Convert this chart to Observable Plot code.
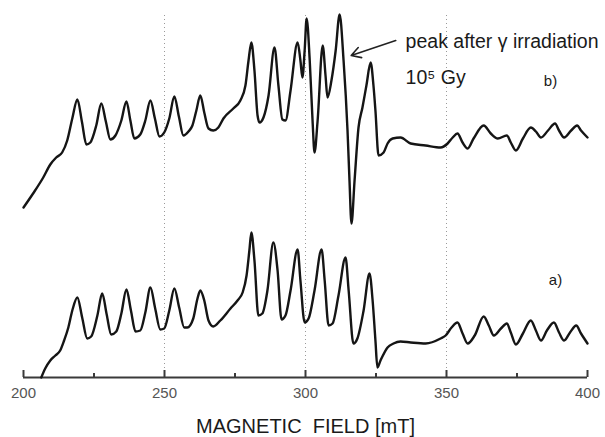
<!DOCTYPE html>
<html>
<head>
<meta charset="utf-8">
<script src="https://cdn.jsdelivr.net/npm/d3@7"></script>
<script src="https://cdn.jsdelivr.net/npm/@observablehq/plot@0.6"></script>
<style>
  html, body { margin: 0; padding: 0; background: #fff; }
  #chart { width: 605px; height: 437px; }
</style>
</head>
<body>
<div id="chart"></div>
<script>
// Spectrum b) — after gamma irradiation (10^5 Gy): magnetic field [mT] and signal (a.u.)
const fieldB = [200.0,203.4,207.0,209.5,211.6,213.7,215.5,217.3,219.1,220.7,222.3,223.7,225.8,227.6,229.2,230.8,232.6,234.7,236.5,237.9,239.3,241.4,243.2,245.0,246.6,248.2,249.9,251.7,253.5,255.1,256.7,258.5,259.9,261.3,262.7,264.1,265.6,267.3,269.1,270.9,274.4,276.9,278.7,279.8,280.8,281.9,283.0,283.7,285.1,286.9,289.0,290.4,291.8,292.9,294.7,297.2,298.2,298.9,299.7,300.4,301.5,302.5,303.2,304.3,306.1,307.1,307.8,309.2,310.7,312.1,313.5,314.9,315.6,316.3,317.4,318.8,320.2,321.6,323.1,324.1,324.8,325.9,327.7,329.1,330.9,333.7,337.3,342.6,347.9,350.4,352.2,353.9,355.7,357.5,359.6,363.2,365.7,368.2,371.4,372.8,374.6,377.1,379.9,381.7,383.5,386.0,388.5,389.9,391.7,394.2,396.3,397.7,400.0];
const signalB = [17.0,18.4,20.0,21.3,22.0,22.5,23.7,25.9,27.8,25.6,23.3,23.5,25.2,27.4,25.6,23.8,24.2,25.7,27.6,25.7,23.9,24.3,25.7,27.7,25.9,24.1,24.5,25.9,28.1,26.1,24.2,24.6,25.2,26.7,28.2,26.5,24.9,24.7,25.0,25.9,26.9,27.7,29.2,31.7,33.5,30.7,26.2,25.5,26.0,28.2,33.0,29.2,25.8,25.7,28.7,33.5,31.7,30.0,32.7,35.9,31.7,25.7,22.5,25.7,33.2,30.2,28.0,29.7,32.7,36.3,31.7,24.7,19.7,15.4,19.7,25.0,27.0,29.2,31.5,29.2,26.7,22.2,22.5,23.4,23.9,24.0,23.4,23.2,23.0,23.4,24.0,24.4,23.5,22.9,23.9,25.2,24.4,23.9,24.2,23.5,22.7,23.9,25.0,24.6,24.0,24.7,25.4,24.7,24.0,24.7,25.2,24.7,24.0];

// Spectrum a) — before irradiation
const fieldA = [206.3,207.7,209.5,211.3,213.0,214.4,215.9,217.3,219.1,220.8,222.6,224.0,226.2,227.9,229.5,231.1,232.9,234.7,236.5,238.1,239.7,241.4,243.2,245.0,246.7,248.5,249.9,251.7,253.5,255.2,257.0,258.1,260.2,261.7,262.7,264.1,265.6,267.3,269.8,273.4,275.9,277.7,279.1,280.1,280.8,281.9,283.3,284.7,286.5,288.6,290.1,291.5,292.9,294.7,297.2,298.2,299.7,301.1,303.2,305.7,306.8,308.2,309.6,311.7,314.2,315.3,317.0,318.4,320.6,322.7,323.8,324.8,325.5,326.6,329.1,331.2,333.7,337.3,342.6,347.9,349.7,351.8,353.9,355.7,357.5,360.0,363.2,365.0,366.8,369.3,371.4,372.8,374.6,377.1,379.9,381.7,383.5,385.6,388.1,389.9,391.7,393.8,396.0,397.7,400.0];
const signalA = [0.0,0.9,1.7,2.2,2.7,3.7,5.0,6.7,8.0,6.0,3.9,4.1,6.2,8.4,6.3,4.3,4.6,6.4,8.8,6.7,4.6,4.7,6.5,9.0,6.9,4.8,4.9,6.7,8.9,7.0,5.0,5.0,5.9,7.9,8.7,7.7,5.7,5.1,5.7,6.9,7.7,8.5,10.2,12.7,14.5,11.7,6.2,6.4,8.7,13.5,10.7,5.8,6.2,8.7,12.8,9.7,5.5,5.9,8.7,12.8,9.7,5.2,5.4,8.2,12.0,8.7,3.4,3.9,6.7,10.4,7.7,3.7,1.0,1.7,3.0,3.4,3.6,3.5,3.4,3.9,4.2,5.0,5.5,4.4,3.4,4.2,6.1,5.2,4.2,4.9,5.4,4.5,3.3,4.4,5.7,4.7,3.7,4.7,5.5,4.5,3.7,4.5,5.2,4.4,3.4];

const majorTicks = [200, 250, 300, 350, 400];
const minorTicks = [225, 275, 325, 375];
const gridLines = [250, 300, 350];
const xTitle = "MAGNETIC\u00a0 FIELD [mT]";

// annotation anchors (data units)
const peakNote = {x: 335.5, y: 33.6, text: "peak after \u03b3 irradiation"};
const doseNote = {x: 335.5, y: 30.0, text: "10\u2075 Gy"};
const labelB = {x: 384.5, y: 29.6, text: "b)"};
const labelA = {x: 386.3, y: 9.7, text: "a)"};
const arrowFrom = {x: 332.0, y: 33.7};
const arrowTo = {x: 316.2, y: 32.2};

const specB = fieldB.map((f, i) => ({field: f, signal: signalB[i]}));
const specA = fieldA.map((f, i) => ({field: f, signal: signalA[i]}));

const font = "'Liberation Sans', Arial, Helvetica, sans-serif";

const chart = Plot.plot({
  width: 605,
  height: 437,
  marginLeft: 23,
  marginRight: 18,
  marginTop: 0,
  marginBottom: 60,
  style: {fontFamily: font, background: "#fff", overflow: "visible"},
  x: {domain: [200, 400]},
  y: {domain: [0, 37.7], axis: null},
  marks: [
    Plot.ruleX(gridLines, {x: d => d, stroke: "#9a9a9a", strokeWidth: 1, strokeDasharray: "1,3", insetTop: 15}),
    Plot.ruleY([0], {stroke: "#3a3a3a", strokeWidth: 2}),
    Plot.ruleX(majorTicks, {x: d => d, stroke: "#3a3a3a", strokeWidth: 2, insetTop: 370}),
    Plot.ruleX(minorTicks, {x: d => d, stroke: "#3a3a3a", strokeWidth: 2, insetTop: 373}),
    Plot.axisX(majorTicks, {tickSize: 0, tickPadding: 10, fontSize: 15, fill: "#555", label: null}),
    Plot.text([xTitle], {text: d => d, frameAnchor: "bottom", dy: 49, fontSize: 20, fill: "#1a1a1a", lineAnchor: "middle"}),
    Plot.line(specB, {x: "field", y: "signal", curve: "monotone-x", stroke: "#151515", strokeWidth: 2.4, strokeLinejoin: "round"}),
    Plot.line(specA, {x: "field", y: "signal", curve: "monotone-x", stroke: "#151515", strokeWidth: 2.4, strokeLinejoin: "round"}),
    Plot.arrow([{x1: arrowFrom.x, y1: arrowFrom.y, x2: arrowTo.x, y2: arrowTo.y}], {x1: "x1", y1: "y1", x2: "x2", y2: "y2", stroke: "#222", strokeWidth: 1.6, headLength: 10}),
    Plot.text([peakNote, doseNote], {x: "x", y: "y", text: "text", textAnchor: "start", fontSize: 19.5, fill: "#1a1a1a"}),
    Plot.text([labelB, labelA], {x: "x", y: "y", text: "text", textAnchor: "start", fontSize: 15, fill: "#1a1a1a"})
  ]
});
document.getElementById("chart").appendChild(chart);
</script>
</body>
</html>
